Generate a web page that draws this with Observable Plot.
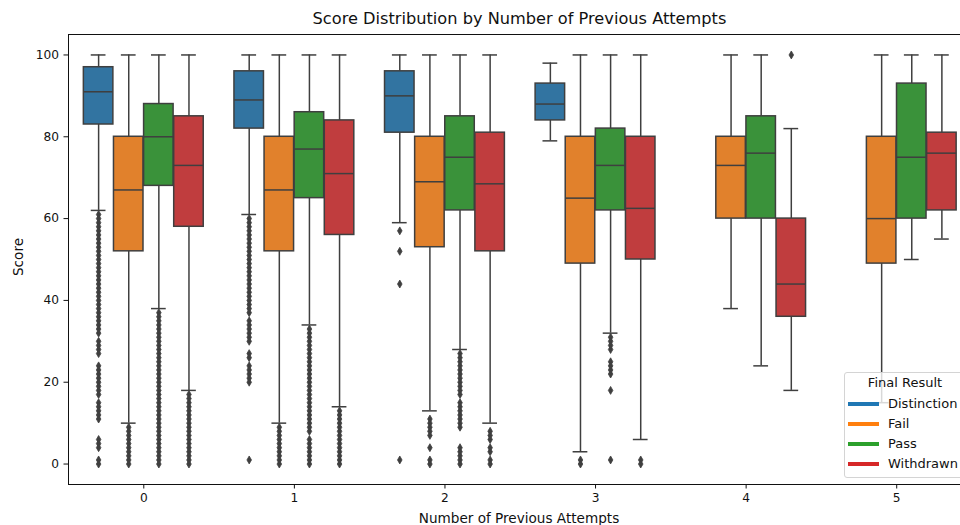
<!DOCTYPE html>
<html><head><meta charset="utf-8">
<script src="https://cdn.jsdelivr.net/npm/d3@7"></script>
<script src="https://cdn.jsdelivr.net/npm/@observablehq/plot@0.6"></script>
<style>
body{margin:0;background:#fff;font-family:"DejaVu Sans",sans-serif;}
#wrap{position:relative;width:960px;height:525px;overflow:hidden;}
#title{position:absolute;top:9px;left:519.5px;transform:translateX(-50%);font-size:16.2px;white-space:nowrap;color:#111;}
#xlabel{position:absolute;top:510px;left:519px;transform:translateX(-50%);font-size:13.6px;white-space:nowrap;color:#111;}
#ylabel{position:absolute;top:257px;left:18px;transform:translate(-50%,-50%) rotate(-90deg);font-size:13.6px;white-space:nowrap;color:#111;}
#legend{position:absolute;left:844px;top:372px;width:124px;height:106px;border:1px solid #d4d4d4;border-radius:3px;background:rgba(255,255,255,0.8);font-size:13px;color:#111;box-sizing:border-box;}
#legend .t{position:absolute;left:0;width:120px;text-align:center;top:2px;}
#legend .sw{position:absolute;left:3px;width:31px;height:4px;}
#legend .lb{position:absolute;left:43px;white-space:nowrap;}
</style></head><body>
<div id="wrap"><div id="chart"></div><div id="title">Score Distribution by Number of Previous Attempts</div><div id="xlabel">Number of Previous Attempts</div><div id="ylabel">Score</div><div id="legend"></div></div>
<script>
const attempts = [0, 1, 2, 3, 4, 5];
const results = ["Distinction", "Fail", "Pass", "Withdrawn"];
const boxColors = ["#3274a1", "#e1812c", "#3a923a", "#c03d3e"];
const legendColors = ["#1f77b4", "#ff7f0e", "#2ca02c", "#d62728"];
const yTicks = [0, 20, 40, 60, 80, 100];

// rows: attempts; columns: Distinction, Fail, Pass, Withdrawn
const whiskerLow  = [[62, 10, 38, 18], [61, 10, 34, 14], [59, 13, 28, 10], [79, 3, 32, 6], [null, 38, 24, 18], [null, 15, 50, 55]];
const q1          = [[83, 52, 68, 58], [82, 52, 65, 56], [81, 53, 62, 52], [84, 49, 62, 50], [null, 60, 60, 36], [null, 49, 60, 62]];
const median      = [[91, 67, 80, 73], [89, 67, 77, 71], [90, 69, 75, 68.5], [88, 65, 73, 62.5], [null, 73, 76, 44], [null, 60, 75, 76]];
const q3          = [[97, 80, 88, 85], [96, 80, 86, 84], [96, 80, 85, 81], [93, 80, 82, 80], [null, 80, 85, 60], [null, 80, 93, 81]];
const whiskerHigh = [[100, 100, 100, 100], [100, 100, 100, 100], [100, 100, 100, 100], [98, 100, 100, 100], [null, 100, 100, 82], [null, 100, 100, 100]];

const outliers = [
  [
    [61,60,59,58,57,56,55,54,53,52,51,50,49,48,47,46,45,44,43,42,41,40,39,38,37,36,35,34,33,32,30,29,28,27,24,23,22,21,20,19,18,17,15,14,13,12,11,6,5,4,1,0],
    [9,8,7,6,5,4,3,2,1,0],
    [37,36,35,34,33,32,31,30,29,28,27,26,25,24,23,22,21,20,19,18,17,16,15,14,13,12,11,10,9,8,7,6,5,4,3,2,1,0],
    [17,16,15,14,13,12,11,10,9,8,7,6,5,4,3,2,1,0]
  ],
  [
    [60,59,58,57,56,55,54,53,52,51,50,49,48,47,46,45,44,43,42,41,40,39,38,37,35,34,33,32,31,30,27,26,24,23,22,21,20,1],
    [9,8,7,6,5,4,3,2,1,0],
    [33,32,31,30,29,28,27,26,25,24,23,22,21,20,19,18,17,16,15,14,13,12,11,10,9,8,6,5,4,3,2,1,0],
    [13,12,11,10,9,8,7,6,5,4,3,2,1,0]
  ],
  [
    [57,52,44,1],
    [11,10,9,8,7,4,1,0],
    [27,26,25,24,23,22,21,20,19,18,17,15,14,13,12,11,10,9,4,3,2,1,0],
    [8,7,6,4,3,1,0]
  ],
  [
    [],
    [1,0],
    [31,30,29,28,25,24,23,22,18,1],
    [1,0]
  ],
  [[], [], [], [100]],
  [[], [], [], []]
];

const hueWidth = 0.2, boxWidth = 0.196, capWidth = 0.098;
const boxes = [];
const points = [];
attempts.forEach((a, i) => {
  results.forEach((r, j) => {
    const c = a + (j - 1.5) * hueWidth;
    if (q1[i][j] != null) {
      boxes.push({attempt: a, result: r, center: c, x1: c - boxWidth / 2, x2: c + boxWidth / 2,
        cap1: c - capWidth / 2, cap2: c + capWidth / 2,
        lo: whiskerLow[i][j], q1: q1[i][j], med: median[i][j], q3: q3[i][j], hi: whiskerHigh[i][j]});
    }
    outliers[i][j].forEach(s => points.push({attempt: a, result: r, center: c, score: s}));
  });
});

const edge = "#3f3f3f";
const sw = 1.5;
const chart = Plot.plot({
  width: 960, height: 525,
  marginTop: 34, marginBottom: 41, marginLeft: 68, marginRight: 0,
  style: {fontFamily: "DejaVu Sans, sans-serif", fontSize: "12.2px", color: "#111", background: "transparent", overflow: "visible"},
  x: {domain: [-0.5, 5.5], range: [68, 971.5], axis: null},
  y: {domain: [-5, 105], axis: null},
  color: {domain: results, range: boxColors},
  marks: [
    Plot.ruleX(boxes, {x: "center", y1: "lo", y2: "q1", stroke: edge, strokeWidth: sw}),
    Plot.ruleX(boxes, {x: "center", y1: "q3", y2: "hi", stroke: edge, strokeWidth: sw}),
    Plot.ruleY(boxes, {y: "lo", x1: "cap1", x2: "cap2", stroke: edge, strokeWidth: sw}),
    Plot.ruleY(boxes, {y: "hi", x1: "cap1", x2: "cap2", stroke: edge, strokeWidth: sw}),
    Plot.rect(boxes, {x1: "x1", x2: "x2", y1: "q1", y2: "q3", fill: "result", stroke: edge, strokeWidth: sw}),
    Plot.ruleY(boxes, {y: "med", x1: "x1", x2: "x2", stroke: edge, strokeWidth: sw}),
    Plot.dot(points, {x: "center", y: "score", symbol: "diamond", r: 2.4, fill: edge, stroke: edge, strokeWidth: 0.8}),
    Plot.ruleX([-0.5, 5.5], {stroke: "#111", strokeWidth: 1}),
    Plot.ruleY([-5, 105], {stroke: "#111", strokeWidth: 1}),
    Plot.axisX({ticks: attempts, tickSize: 4.5, tickPadding: 4, label: null, tickFormat: d => String(d)}),
    Plot.axisY({ticks: yTicks, tickSize: 4.5, tickPadding: 5, label: null})
  ]
});
document.getElementById("chart").appendChild(chart);

const lg = document.getElementById("legend");
const t = document.createElement("div");
t.className = "t"; t.textContent = "Final Result"; lg.appendChild(t);
results.forEach((r, j) => {
  const cy = 31 + j * 20;
  const s = document.createElement("div");
  s.className = "sw"; s.style.top = (cy - 2) + "px"; s.style.background = legendColors[j]; lg.appendChild(s);
  const l = document.createElement("div");
  l.className = "lb"; l.style.top = (cy - 8.5) + "px"; l.textContent = r; lg.appendChild(l);
});
</script></body></html>
